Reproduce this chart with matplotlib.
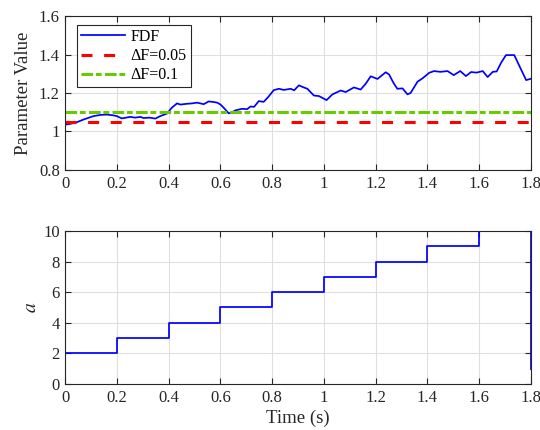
import matplotlib
matplotlib.use("Agg")
import matplotlib.pyplot as plt
import numpy as np

# ---- data ----
fdf_t = [0.000, 0.020, 0.044, 0.070, 0.109, 0.135, 0.160, 0.185, 0.199, 0.218, 0.235,
         0.251, 0.270, 0.290, 0.302, 0.325, 0.348, 0.367, 0.393, 0.412, 0.432,
         0.445, 0.470, 0.490, 0.509, 0.535, 0.554, 0.570, 0.587, 0.600, 0.612, 0.632,
         0.645, 0.658, 0.684, 0.703, 0.716, 0.730, 0.748, 0.767, 0.785, 0.806, 0.826,
         0.845, 0.871, 0.885, 0.903, 0.920, 0.936, 0.961, 0.981, 1.010, 1.033,
         1.065, 1.084, 1.116, 1.142, 1.162, 1.181, 1.207, 1.239, 1.252, 1.270, 1.284,
         1.304, 1.323, 1.335, 1.362, 1.381, 1.407, 1.426, 1.450, 1.478, 1.502,
         1.527, 1.549, 1.569, 1.590, 1.614, 1.633, 1.653, 1.668, 1.685, 1.704,
         1.736, 1.756, 1.782, 1.800]
fdf_v = [1.036, 1.040, 1.048, 1.062, 1.080, 1.086, 1.088, 1.084, 1.080, 1.068, 1.072,
         1.076, 1.072, 1.076, 1.070, 1.072, 1.067, 1.080, 1.093, 1.124, 1.146,
         1.140, 1.144, 1.146, 1.150, 1.142, 1.156, 1.154, 1.150, 1.140, 1.124, 1.094,
         1.100, 1.110, 1.118, 1.116, 1.130, 1.128, 1.158, 1.154, 1.180, 1.215, 1.222,
         1.216, 1.222, 1.214, 1.240, 1.230, 1.222, 1.187, 1.184, 1.163, 1.193,
         1.213, 1.205, 1.229, 1.218, 1.249, 1.287, 1.273, 1.308, 1.296, 1.250, 1.222,
         1.224, 1.193, 1.200, 1.259, 1.276, 1.305, 1.314, 1.310, 1.314, 1.293,
         1.314, 1.288, 1.309, 1.306, 1.314, 1.283, 1.310, 1.312, 1.357, 1.397,
         1.397, 1.340, 1.267, 1.274]
df_005 = 1.05
df_01 = 1.1

step_t = [0.0, 0.0, 0.2, 0.4, 0.6, 0.8, 1.0, 1.2, 1.4, 1.6, 1.8, 1.8]
step_a = [1, 2, 3, 4, 5, 6, 7, 8, 9, 10, 10, 1]

xticks = [0, 0.2, 0.4, 0.6, 0.8, 1, 1.2, 1.4, 1.6, 1.8]
xtick_labels = ["0", "0.2", "0.4", "0.6", "0.8", "1", "1.2", "1.4", "1.6", "1.8"]
yticks_top = [0.8, 1.0, 1.2, 1.4, 1.6]
ytick_top_labels = ["0.8", "1", "1.2", "1.4", "1.6"]
yticks_bot = [0, 2, 4, 6, 8, 10]

# ---- style ----
plt.rcParams['font.family'] = ['Liberation Serif', 'DejaVu Serif']
plt.rcParams['font.size'] = 12
plt.rcParams['mathtext.fontset'] = 'stix'

fig = plt.figure(figsize=(5.4, 4.3), dpi=100)
ax1 = fig.add_axes([0.121, 0.6047, 0.862, 0.358])
ax2 = fig.add_axes([0.121, 0.107, 0.862, 0.356])

axcol = '#262626'
for ax in (ax1, ax2):
    ax.set_xlim(0, 1.8)
    ax.set_xticks(xticks)
    ax.set_xticklabels(xtick_labels)
    ax.grid(True, color='#dfdfdf', linewidth=0.8)
    ax.set_axisbelow(True)
    ax.tick_params(direction='in', top=True, right=True, length=4, width=0.8,
                   colors=axcol, labelcolor='#262626', labelsize=12, pad=4)
    for s in ax.spines.values():
        s.set_color(axcol)
        s.set_linewidth(0.8)

ax1.plot(fdf_t, fdf_v, color='#0000ff', linewidth=1.25, label='FDF')
ax1.axhline(df_005, color='#ff0000', linewidth=2.2, linestyle=(0, (3.6, 3.8)), label='ΔF=0.05')
ax1.axhline(df_01, color='#66cc00', linewidth=2.2, linestyle=(0, (3.8, 0.9, 1.9, 1.1)), label='ΔF=0.1')
ax1.set_ylim(0.8, 1.6)
ax1.set_yticks(yticks_top)
ax1.set_yticklabels(ytick_top_labels)
ax1.set_ylabel('Parameter Value', fontsize=13.5, color='#262626', labelpad=5)
leg = ax1.legend(loc='upper left', bbox_to_anchor=(0.025, 0.942), fontsize=11.5,
                 frameon=True, fancybox=False, edgecolor='#262626', framealpha=1,
                 handlelength=2.75, handletextpad=0.35, borderpad=0.25, labelspacing=0.2,
                 borderaxespad=0.0)
leg.get_frame().set_linewidth(0.8)

ax2.step(step_t, step_a, where='post', color='#0000ff', linewidth=1.25)
ax2.set_ylim(0, 10)
ax2.set_yticks(yticks_bot)
ax2.set_ylabel('$a$', fontsize=14, color='#262626', labelpad=2)
ax2.set_xlabel('Time (s)', fontsize=13.5, color='#262626', labelpad=3)

fig.savefig('out.png', dpi=100)
